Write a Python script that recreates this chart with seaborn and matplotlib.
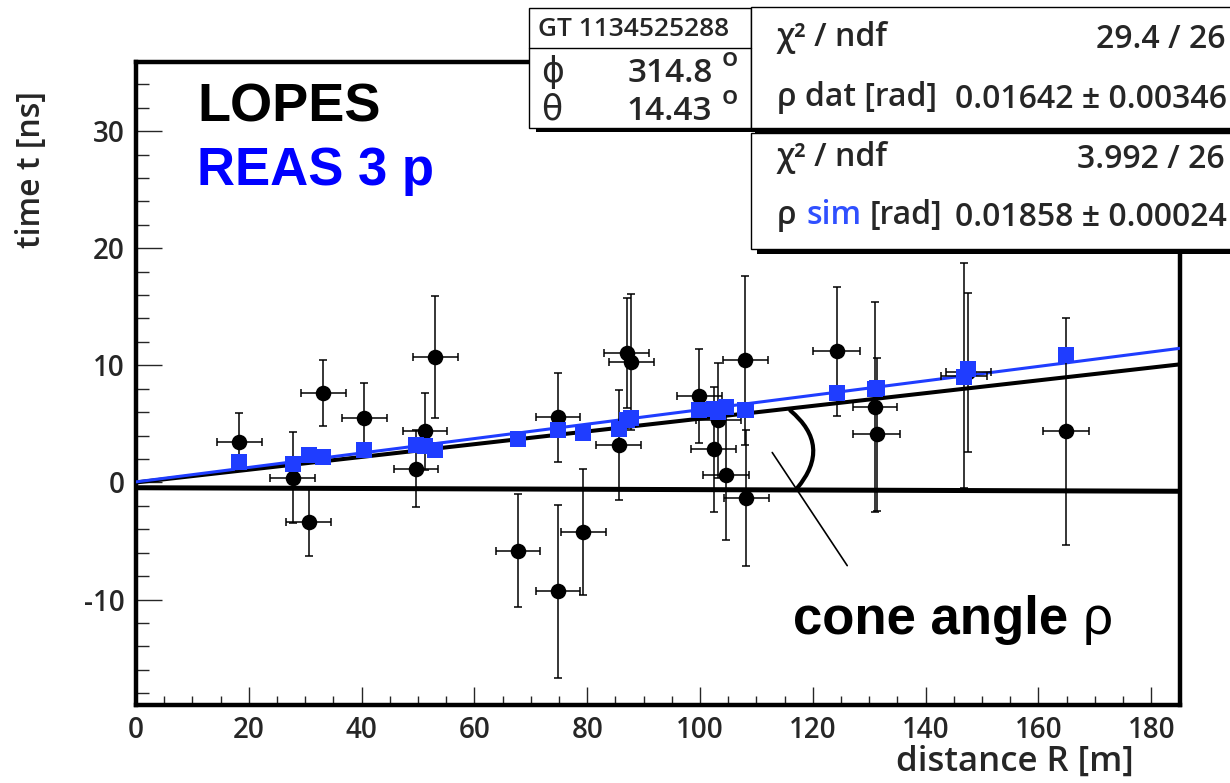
import numpy as np
import pandas as pd
import matplotlib
matplotlib.use("Agg")
import matplotlib.pyplot as plt
import seaborn as sns
from matplotlib.patches import Rectangle
from matplotlib.ticker import MultipleLocator

# ---------------- data ----------------
R_dat = [18.3, 27.8, 30.6, 33.2, 40.5, 49.6, 51.2, 53.1, 67.7, 74.8, 74.8, 79.3,
         85.6, 87.0, 87.8, 99.9, 102.4, 103.2, 104.6, 108.0, 108.2, 124.2, 131.1,
         131.3, 146.8, 147.6, 164.9]
t_dat = [3.44, 0.40, -3.36, 7.63, 5.50, 1.17, 4.36, 10.71, -5.81, 5.58, -9.29, -4.25,
         3.22, 11.08, 10.28, 7.38, 2.82, 5.30, 0.66, 10.43, -1.31, 11.2, 6.44,
         4.10, 9.1, 9.4, 4.36]
t_err = [2.5, 3.9, 2.9, 2.8, 3.0, 3.3, 3.3, 5.2, 4.8, 3.8, 7.4, 5.4,
         4.7, 4.7, 5.8, 4.0, 5.3, 4.9, 5.6, 7.2, 5.8, 5.5, 9.0,
         6.5, 9.6, 6.8, 9.7]
R_err = [4.0, 4.0, 4.0, 4.0, 4.0, 3.9, 3.9, 4.0, 3.9, 3.9, 3.9, 4.0,
         4.0, 4.0, 4.0, 4.0, 4.0, 4.0, 4.0, 4.0, 4.0, 4.1, 3.9,
         4.1, 4.0, 4.0, 4.1]
t_sim = [1.79, 1.54, 2.37, 2.17, 2.73, 3.22, 3.08, 2.73, 3.73, 4.45, 4.45, 4.25,
         4.55, 5.35, 5.50, 6.15, 6.30, 6.00, 6.45, 6.15, 6.15, 7.67, 8.00,
         8.10, 9.0, 9.7, 10.85]

line_R = [0.0, 185.0]
line_dat = [0.0, 10.08]
line_sim = [0.05, 11.45]
line_plane = [-0.45, -0.75]

arc_R = [116.0, 117.2]
arc_t = [6.15, -0.5]
pointer_R = [112.8, 126.1]
pointer_t = [2.56, -7.1]

x_ticks = [0, 20, 40, 60, 80, 100, 120, 140, 160, 180]
y_ticks = [-10, 0, 10, 20, 30]

BLUE = "#1f3dff"

# ---------------- style ----------------
sns.set_style("white")
plt.rcParams["font.family"] = ["Open Sans", "DejaVu Sans"]
plt.rcParams["axes.unicode_minus"] = False

W, H = 1230, 783
fig = plt.figure(figsize=(W / 100, H / 100), dpi=100)
fig.patch.set_facecolor("white")

ax_l, ax_r, ax_t, ax_b = 136, 1180, 62, 705
ax = fig.add_axes([ax_l / W, 1 - ax_b / H, (ax_r - ax_l) / W, (ax_b - ax_t) / H])
ax.set_facecolor("white")

# reference plane and fit lines
ax.plot(line_R, line_plane, color="black", lw=3.6, solid_capstyle="butt", zorder=2)
sns.lineplot(x=line_R, y=line_dat, ax=ax, color="black", lw=2.9, zorder=3)
sns.lineplot(x=line_R, y=line_sim, ax=ax, color=BLUE, lw=2.2, zorder=4)

# data points with error bars
ax.errorbar(R_dat, t_dat, xerr=R_err, yerr=t_err, fmt="none", ecolor="black",
            elinewidth=1.1, capsize=3, capthick=1.1, zorder=5)
df_dat = pd.DataFrame({"R": R_dat, "t": t_dat})
df_sim = pd.DataFrame({"R": R_dat, "t": t_sim})
sns.scatterplot(data=df_dat, x="R", y="t", ax=ax, marker="o", s=125,
                color="black", linewidth=0, zorder=6)
sns.scatterplot(data=df_sim, x="R", y="t", ax=ax, marker="s", s=118,
                color=BLUE, linewidth=0, zorder=7)

# cone angle sketch
ax.annotate("", xy=(arc_R[1], arc_t[1]), xytext=(arc_R[0], arc_t[0]),
            arrowprops=dict(arrowstyle="-", lw=3.0, color="black",
                            connectionstyle="arc3,rad=-0.5",
                            shrinkA=0, shrinkB=0), zorder=8)
ax.plot(pointer_R, pointer_t, color="black", lw=1.2, zorder=8)

ax.set_xlim(0, 185.1)
ax.set_ylim(-19.0, 35.9)
ax.set_xticks(x_ticks)
ax.set_yticks(y_ticks)
ax.xaxis.set_minor_locator(MultipleLocator(5))
ax.yaxis.set_minor_locator(MultipleLocator(2))
ax.set_xlabel("")
ax.set_ylabel("")
for s in ax.spines.values():
    s.set_linewidth(3.2)
    s.set_color("black")
    s.set_visible(True)
ax.tick_params(axis="y", which="major", direction="in", length=19, width=1.0,
               labelsize=20, pad=8, left=True, right=False)
ax.tick_params(axis="y", which="minor", direction="in", length=9, width=1.0,
               left=True, right=False)
ax.tick_params(axis="x", which="major", direction="in", length=13, width=1.0,
               labelsize=20, pad=8, bottom=True, top=False)
ax.tick_params(axis="x", which="minor", direction="in", length=6.5, width=1.0,
               bottom=True, top=False)
for lbl in ax.get_xticklabels() + ax.get_yticklabels():
    lbl.set_fontweight("semibold")

# ---------------- overlay in pixel coordinates ----------------
ov = fig.add_axes([0, 0, 1, 1], zorder=10)
ov.set_xlim(0, W)
ov.set_ylim(H, 0)
ov.axis("off")
ov.patch.set_alpha(0)

ov.text(197, 122, "LOPES", fontsize=39, fontweight="bold", color="black",
        family="Liberation Sans", ha="left", va="baseline")
ov.text(197, 185, "REAS 3 p", fontsize=38, fontweight="bold", color="#0000ff",
        family="Liberation Sans", ha="left", va="baseline")
ov.text(793, 634, "cone angle", fontsize=38, fontweight="bold", color="black",
        family="Liberation Sans", ha="left", va="baseline")
ov.text(1083, 634, "ρ", fontsize=38, color="black",
        family="Liberation Sans", ha="left", va="baseline")

ov.text(32, 170, "time t [ns]", rotation=90, fontsize=23, fontweight="semibold",
        ha="center", va="center")
ov.text(1015, 762, "distance R [m]", fontsize=25, fontweight="semibold",
        ha="center", va="center")

def box(x0, y0, x1, y1, sx0):
    ov.add_patch(Rectangle((sx0, y1), x1 + 20 - sx0, 4.5, facecolor="black",
                           edgecolor="none"))
    ov.add_patch(Rectangle((x0, y0), x1 - x0, y1 - y0, facecolor="white",
                           edgecolor="black", lw=1.0))

TW = "semibold"
# event box
box(529.3, 8.0, 750.7, 127.7, 536)
ov.plot([529.3, 750.7], [47.7, 47.7], color="black", lw=1.0)
ov.text(538, 29.5, "GT 1134525288", fontsize=19, fontweight=TW,
        ha="left", va="center")
ov.text(541, 72, "ϕ", fontsize=25, ha="left", va="center",
        family=["DejaVu Sans"])
ov.text(713, 73, "314.8", fontsize=24, fontweight=TW, ha="right", va="center")
ov.text(730, 60, "o", fontsize=19, fontweight=TW, ha="center", va="center")
ov.text(541, 110, "θ", fontsize=25, ha="left", va="center",
        family=["DejaVu Sans"])
ov.text(712, 111.5, "14.43", fontsize=24, fontweight=TW, ha="right", va="center")
ov.text(730, 98, "o", fontsize=19, fontweight=TW, ha="center", va="center")

# fit boxes
box(750.7, 7.3, 1250, 128.0, 755)
box(750.7, 132.5, 1250, 249.3, 757)
fs = 23
ov.text(777, 37, "χ² / ndf", fontsize=fs, fontweight=TW, ha="left", va="center")
ov.text(1225, 40, "29.4 / 26", fontsize=fs, fontweight=TW, ha="right", va="center")
ov.text(777, 98, "ρ dat [rad]", fontsize=fs, fontweight=TW, ha="left", va="center")
ov.text(1227, 100, "0.01642 ± 0.00346", fontsize=fs, fontweight=TW,
        ha="right", va="center")
ov.text(777, 157, "χ² / ndf", fontsize=fs, fontweight=TW, ha="left", va="center")
ov.text(1225, 160, "3.992 / 26", fontsize=fs, fontweight=TW, ha="right", va="center")
ov.text(777, 216, "ρ", fontsize=fs, fontweight=TW, ha="left", va="center")
ov.text(806, 216, "sim", fontsize=fs, fontweight=TW, ha="left", va="center",
        color="#3050ff")
ov.text(870, 216, "[rad]", fontsize=fs, fontweight=TW, ha="left", va="center")
ov.text(1227, 218, "0.01858 ± 0.00024", fontsize=fs, fontweight=TW,
        ha="right", va="center")

fig.savefig("out.png", dpi=100, facecolor="white")
